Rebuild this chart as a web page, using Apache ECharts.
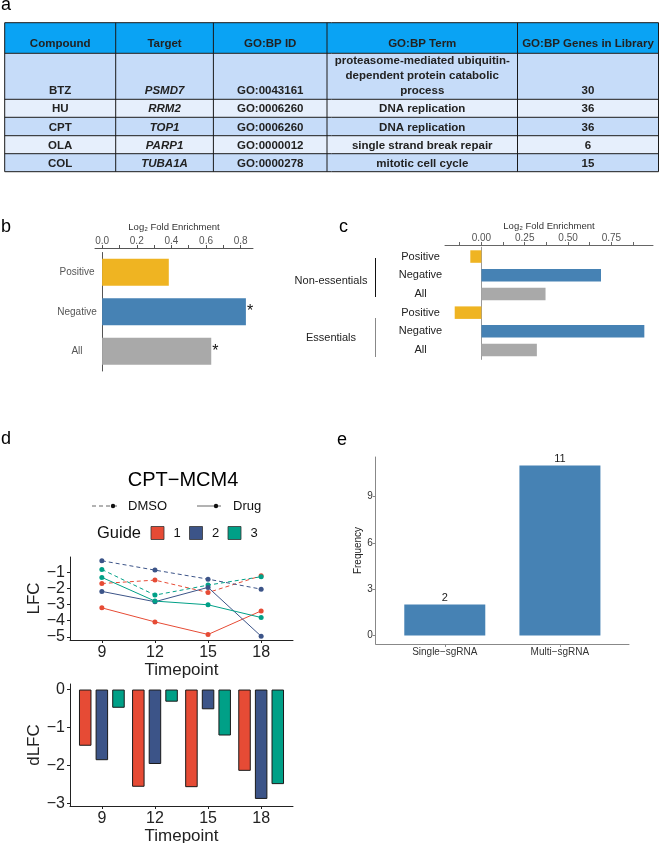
<!DOCTYPE html>
<html><head><meta charset="utf-8">
<script src="https://cdn.jsdelivr.net/npm/echarts@6/dist/echarts.min.js"></script>
<style>html,body{margin:0;padding:0;background:#fff}#c{width:660px;height:843px}</style>
</head><body><div id="c"></div>
<script>
// ---------- Panel a: table ----------
const tableHeaders = ['Compound', 'Target', 'GO:BP ID', 'GO:BP Term', 'GO:BP Genes in Library'];
const compounds = ['BTZ', 'HU', 'CPT', 'OLA', 'COL'];
const targets = ['PSMD7', 'RRM2', 'TOP1', 'PARP1', 'TUBA1A'];
const goIds = ['GO:0043161', 'GO:0006260', 'GO:0006260', 'GO:0000012', 'GO:0000278'];
const goTerms = ['proteasome-mediated ubiquitin-\ndependent protein catabolic\nprocess', 'DNA replication', 'DNA replication', 'single strand break repair', 'mitotic cell cycle'];
const genesInLib = [30, 36, 36, 6, 15];

// ---------- Panel b ----------
const bCats = ['Positive', 'Negative', 'All'];
const bValues = [0.385, 0.83, 0.63];
const bSig = ['', '*', '*'];
const bTicks = [0, 0.2, 0.4, 0.6, 0.8];

// ---------- Panel c ----------
const cGroups = ['Non-essentials', 'Essentials'];
const cSub = ['Positive', 'Negative', 'All'];
const cNonEss = [-0.064, 0.69, 0.37];
const cEss = [-0.154, 0.94, 0.32];
const cTicks = [0, 0.25, 0.5, 0.75];

// ---------- Panel d ----------
const dTitle = 'CPT\u2212MCM4';
const conditions = ['DMSO', 'Drug'];
const guides = ['1', '2', '3'];
const timepoints = [9, 12, 15, 18];
const lfcDMSO_g1 = [-1.69, -1.48, -2.25, -1.21];
const lfcDMSO_g2 = [-0.28, -0.86, -1.42, -2.04];
const lfcDMSO_g3 = [-0.82, -2.41, -1.79, -1.27];
const lfcDrug_g1 = [-3.20, -4.07, -4.85, -3.39];
const lfcDrug_g2 = [-2.18, -2.82, -1.93, -4.96];
const lfcDrug_g3 = [-1.31, -2.78, -3.01, -3.80];
const dlfc_g1 = [-1.48, -2.56, -2.57, -2.14];
const dlfc_g2 = [-1.86, -1.96, -0.52, -2.88];
const dlfc_g3 = [-0.48, -0.32, -1.21, -2.49];
const lfcTicks = [-5, -4, -3, -2, -1];
const dlfcTicks = [-3, -2, -1, 0];

// ---------- Panel e ----------
const eCats = ['Single\u2212sgRNA', 'Multi\u2212sgRNA'];
const eValues = [2, 11];
const eTicks = [0, 3, 6, 9];

// ---------- styling ----------
const FF = '"Liberation Sans", Arial, Helvetica, sans-serif';
const YEL = '#EFB422', STEEL = '#4682B4', GRAY = '#A9A9A9';
const subColor = { Positive: YEL, Negative: STEEL, All: GRAY };
const GC = ['#E64B35', '#3C5488', '#00A087'];
const minus = v => String(v).replace('-', '\u2212');

const G = [];
function T(x, y, text, o) {
  o = o || {};
  const st = { x: x, y: y, text: text, fill: o.fill || '#222', fontSize: o.size || 12, fontFamily: FF,
    fontWeight: o.weight || 'normal', fontStyle: o.style || 'normal',
    align: o.align || 'left', textAlign: o.align || 'left',
    verticalAlign: o.va || 'middle', textVerticalAlign: o.va || 'middle' };
  if (o.lh) st.lineHeight = o.lh;
  G.push({ type: 'text', silent: true, z: 20, style: st });
}
function L(x1, y1, x2, y2, o) {
  o = o || {};
  G.push({ type: 'line', silent: true, z: o.z || 15, shape: { x1: x1, y1: y1, x2: x2, y2: y2 },
    style: { stroke: o.stroke || '#222', lineWidth: o.w || 1, lineDash: o.dash || null } });
}

// table
const colX = [4.7, 115.7, 213.4, 327, 517.5, 658.5];
const rowY = [22.7, 53.3, 99.3, 117.3, 135.7, 153.7, 171.7];
const rowFill = ['#0AA3F4', '#C6DCF9', '#E6EFFC', '#C6DCF9', '#E6EFFC', '#C6DCF9'];
const rows = [tableHeaders].concat(compounds.map((c, i) => [c, targets[i], goIds[i], goTerms[i], String(genesInLib[i])]));
rows.forEach((row, r) => {
  G.push({ type: 'rect', silent: true, z: 5, shape: { x: colX[0], y: rowY[r], width: colX[5] - colX[0], height: rowY[r + 1] - rowY[r] },
    style: { fill: rowFill[r] } });
  row.forEach((cell, c) => {
    T((colX[c] + colX[c + 1]) / 2, rowY[r + 1] - (r === 0 ? 2 : 0.8), cell,
      { size: 11.5, weight: 'bold', style: (r > 0 && c === 1) ? 'italic' : 'normal', align: 'center', va: 'bottom', lh: 15 });
  });
});
rowY.forEach(y => L(colX[0], y, colX[5], y, { stroke: '#1a1a1a' }));
colX.forEach(x => L(x, rowY[0], x, rowY[rowY.length - 1], { stroke: '#1a1a1a' }));

// panel letters
T(1, 5, 'a', { size: 18, fill: '#000' });
T(1, 227, 'b', { size: 18, fill: '#000' });
T(339, 227, 'c', { size: 18, fill: '#000' });
T(1, 439, 'd', { size: 18, fill: '#000' });
T(337, 440, 'e', { size: 18, fill: '#000' });

// panel c group labels + brackets
T(331, 280.5, cGroups[0], { size: 11, align: 'center' });
T(331, 338, cGroups[1], { size: 11, align: 'center' });
L(375.5, 258, 375.5, 297, { stroke: '#111' });
L(375.5, 318, 375.5, 357, { stroke: '#888' });

// panel d title + legend
T(183, 480, dTitle, { size: 20, align: 'center', fill: '#000' });
L(92, 506, 118, 506, { stroke: '#666', dash: [4, 3] });
G.push({ type: 'circle', silent: true, z: 16, shape: { cx: 113, cy: 506, r: 2.2 }, style: { fill: '#111' } });
T(128, 506, conditions[0], { size: 13, fill: '#111' });
L(197, 506, 221, 506, { stroke: '#666' });
G.push({ type: 'circle', silent: true, z: 16, shape: { cx: 216, cy: 506, r: 2.2 }, style: { fill: '#111' } });
T(233, 506, conditions[1], { size: 13, fill: '#111' });
T(97, 533, 'Guide', { size: 16.5, fill: '#111' });
const sqX = [151, 189.5, 228];
guides.forEach((g, i) => {
  G.push({ type: 'rect', silent: true, z: 16, shape: { x: sqX[i], y: 526.5, width: 13, height: 13 },
    style: { fill: GC[i], stroke: '#333', lineWidth: 0.8 } });
  T(sqX[i] + 26, 533, g, { size: 13, align: 'center', fill: '#111' });
});

// ---------- option ----------
const noSplit = { show: false };
function dAxisX(gi, gap) {
  return { gridIndex: gi, type: 'value', min: 7.2, max: 19.8,
    axisLine: { show: true, onZero: false, lineStyle: { color: '#222', width: 1 } },
    axisTick: { show: true, customValues: timepoints, length: 3, lineStyle: { color: '#222' } },
    axisLabel: { customValues: timepoints, fontSize: 16, color: '#222', margin: 5 },
    splitLine: noSplit, name: 'Timepoint', nameLocation: 'middle', nameGap: gap,
    nameTextStyle: { fontSize: 17, color: '#222' } };
}
function dAxisY(gi, min, max, ticks, name) {
  return { gridIndex: gi, type: 'value', min: min, max: max,
    axisLine: { show: true, onZero: false, lineStyle: { color: '#222', width: 1 } },
    axisTick: { show: true, customValues: ticks, length: 3, lineStyle: { color: '#222' } },
    axisLabel: { customValues: ticks, formatter: minus, fontSize: 16, color: '#222', margin: 5 },
    splitLine: noSplit, name: name, nameLocation: 'middle', nameGap: 26.5, nameRotate: 90,
    nameTextStyle: { fontSize: 17, color: '#222' } };
}

const cCats = [];
const cVals = [];
cGroups.forEach((g, gi) => cSub.forEach((s, si) => {
  cCats.push(g + '|' + s);
  cVals.push({ value: (gi === 0 ? cNonEss : cEss)[si], itemStyle: { color: subColor[s] } });
}));

const lineSets = [
  [conditions[0], lfcDMSO_g1, 0, true], [conditions[0], lfcDMSO_g2, 1, true], [conditions[0], lfcDMSO_g3, 2, true],
  [conditions[1], lfcDrug_g1, 0, false], [conditions[1], lfcDrug_g2, 1, false], [conditions[1], lfcDrug_g3, 2, false]
];
const dl = [dlfc_g1, dlfc_g2, dlfc_g3];

const option = {
  animation: false,
  textStyle: { fontFamily: FF },
  grid: [
    { left: 95, top: 252.5, width: 158, height: 118.5, outerBoundsMode: 'none' },
    { left: 445, top: 247.2, width: 208, height: 112.2, outerBoundsMode: 'none' },
    { left: 70, top: 557, width: 223, height: 83, outerBoundsMode: 'none' },
    { left: 70, top: 684, width: 223, height: 122, outerBoundsMode: 'none' },
    { left: 375.7, top: 457, width: 253.3, height: 187, outerBoundsMode: 'none' }
  ],
  xAxis: [
    { gridIndex: 0, type: 'value', position: 'top', offset: 4.5, min: -0.041, max: 0.871,
      name: 'Log\u2082 Fold Enrichment', nameLocation: 'middle', nameGap: 16,
      nameTextStyle: { fontSize: 9.5, color: '#333' },
      axisLine: { show: true, lineStyle: { color: '#555', width: 1 } },
      axisTick: { show: true, length: 3, customValues: [0, 0.1, 0.2, 0.3, 0.4, 0.5, 0.6, 0.7, 0.8], lineStyle: { color: '#555' } },
      axisLabel: { customValues: bTicks, formatter: v => v.toFixed(1), fontSize: 10, color: '#555', margin: 2 },
      splitLine: noSplit },
    { gridIndex: 1, type: 'value', position: 'top', offset: 2.2, min: -0.21, max: 0.99,
      name: 'Log\u2082 Fold Enrichment', nameLocation: 'middle', nameGap: 14,
      nameTextStyle: { fontSize: 9.5, color: '#333' },
      axisLine: { show: true, lineStyle: { color: '#666', width: 1 } },
      axisTick: { show: true, length: 3, customValues: [-0.125, 0, 0.125, 0.25, 0.375, 0.5, 0.625, 0.75, 0.875], lineStyle: { color: '#666' } },
      axisLabel: { customValues: cTicks, formatter: v => v.toFixed(2), fontSize: 10, color: '#555', margin: 2 },
      splitLine: noSplit },
    dAxisX(2, 20.5),
    dAxisX(3, 18.5),
    { gridIndex: 4, type: 'value', min: 0.4, max: 2.6,
      axisLine: { show: true, onZero: false, lineStyle: { color: '#888', width: 1 } },
      axisTick: { show: true, customValues: [1, 2], length: 3, lineStyle: { color: '#888' } },
      axisLabel: { customValues: [1, 2], formatter: v => eCats[Math.round(v) - 1], fontSize: 10, color: '#333', margin: 3 },
      splitLine: noSplit }
  ],
  yAxis: [
    { gridIndex: 0, type: 'category', data: bCats, inverse: true,
      axisLine: { show: true, onZero: true, lineStyle: { color: '#555', width: 1 } },
      axisTick: { show: false },
      axisLabel: { fontSize: 10, color: '#555', align: 'center', margin: 18 } },
    { gridIndex: 1, type: 'category', data: cCats, inverse: true,
      axisLine: { show: true, onZero: true, lineStyle: { color: '#999', width: 1 } },
      axisTick: { show: false },
      axisLabel: { formatter: v => v.split('|')[1], fontSize: 11, color: '#222', align: 'center', margin: 24.5 } },
    dAxisY(2, -5.194, -0.046, lfcTicks, 'LFC'),
    dAxisY(3, -3.066, 0.146, dlfcTicks, 'dLFC'),
    { gridIndex: 4, type: 'value', min: -0.55, max: 11.55,
      axisLine: { show: true, onZero: false, lineStyle: { color: '#888', width: 1 } },
      axisTick: { show: true, customValues: eTicks, length: 3, lineStyle: { color: '#888' } },
      axisLabel: { customValues: eTicks, fontSize: 10, color: '#333', margin: 3 },
      splitLine: noSplit, name: 'Frequency', nameLocation: 'middle', nameGap: 10, nameRotate: 90,
      nameTextStyle: { fontSize: 10, color: '#222' } }
  ],
  series: [
    { type: 'bar', xAxisIndex: 0, yAxisIndex: 0, barWidth: 27,
      data: bValues.map((v, i) => ({ value: v, itemStyle: { color: subColor[bCats[i]] } })),
      label: { show: true, position: 'right', distance: 1, formatter: p => bSig[p.dataIndex], fontSize: 16, color: '#111' } },
    { type: 'bar', xAxisIndex: 1, yAxisIndex: 1, barWidth: 12.5, data: cVals },
    ...lineSets.map(s => ({
      type: 'line', name: s[0] + ' ' + guides[s[2]], xAxisIndex: 2, yAxisIndex: 2,
      data: timepoints.map((t, i) => [t, s[1][i]]),
      symbol: 'circle', symbolSize: 5, showSymbol: true,
      itemStyle: { color: GC[s[2]] },
      lineStyle: { color: GC[s[2]], width: 1, type: s[3] ? [4, 3] : 'solid' }
    })),
    ...dl.map((arr, gi) => ({
      type: 'bar', name: 'Guide ' + guides[gi], xAxisIndex: 3, yAxisIndex: 3,
      data: timepoints.map((t, i) => [t, arr[i]]),
      barWidth: 12.5, barGap: '33%',
      itemStyle: { color: GC[gi], borderColor: '#1a1a1a', borderWidth: 1 }
    })),
    { type: 'bar', xAxisIndex: 4, yAxisIndex: 4, barWidth: 81,
      data: eCats.map((c, i) => [i + 1, eValues[i]]),
      itemStyle: { color: STEEL },
      label: { show: true, position: 'top', distance: 1, fontSize: 11, color: '#222', formatter: p => String(p.value[1]) } }
  ],
  graphic: G
};

const chart = echarts.init(document.getElementById('c'), null, { renderer: 'canvas' });
chart.setOption(option);
</script>
</body></html>
